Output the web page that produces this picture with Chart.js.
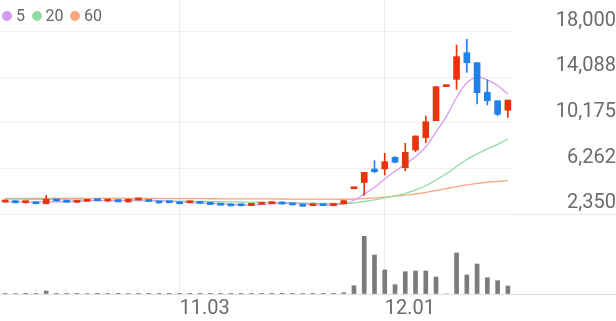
<!DOCTYPE html>
<html><head><meta charset="utf-8">
<script src="https://cdn.jsdelivr.net/npm/chart.js@4.4.0/dist/chart.umd.min.js"></script>
<style>
html,body{margin:0;padding:0;background:#fff;overflow:hidden}
#wrap{position:relative;width:616px;height:321px}
#legend{position:absolute;left:2px;top:7px;display:flex;align-items:center;font-family:Roboto,"Noto Sans",sans-serif;font-size:16px;line-height:17px;color:#666}
#legend .item{display:flex;align-items:center;margin-right:6.5px}
#legend .dot{width:10px;height:10px;border-radius:50%;margin-right:4px}
</style>
</head><body><div id="wrap"><canvas id="c" width="616" height="321"></canvas><div id="legend"></div></div>
<script>
const dates = ['10.11','10.12','10.13','10.16','10.17','10.18','10.19','10.20','10.23','10.24','10.25','10.26','10.27','10.30','10.31','11.01','11.02','11.03','11.06','11.07','11.08','11.09','11.10','11.13','11.14','11.15','11.16','11.17','11.20','11.21','11.22','11.23','11.24','11.27','11.28','11.29','11.30','12.01','12.04','12.05','12.06','12.07','12.08','12.11','12.12','12.13','12.14','12.15','12.18','12.19'];
const xTickLabels = ['11.03','12.01'];
const opens  = [3380,3495,3330,3380,3230,3550,3500,3350,3440,3610,3470,3590,3390,3560,3550,3440,3400,3400,3320,3380,3360,3260,3200,3140,3070,3190,3240,3380,3260,3200,3070,3170,3070,3230,4520,5060,6220,6220,7220,6330,7850,8910,10370,13300,13930,16220,15360,12810,12090,11270];
const closes = [3540,3320,3370,3230,3620,3480,3360,3460,3600,3500,3600,3390,3620,3650,3430,3300,3320,3230,3400,3270,3160,3110,3050,3060,3270,3360,3390,3210,3130,3020,3210,3070,3260,3500,4530,5930,5990,6850,6800,7650,9060,10290,13300,13310,15880,15360,12780,12090,10920,12150];
const highs  = [3560,3500,3380,3390,3950,3560,3510,3470,3610,3620,3610,3600,3640,3670,3560,3450,3410,3410,3410,3390,3370,3270,3210,3150,3280,3370,3400,3390,3270,3210,3220,3180,3280,3520,4530,5930,6930,7570,7280,8430,9060,10780,13300,13310,16880,17370,15360,13870,12090,12150];
const lows   = [3370,3300,3270,3220,3220,3470,3350,3340,3430,3490,3400,3380,3380,3550,3420,3290,3310,3220,3310,3260,3150,3100,3040,3040,3060,3180,3230,3200,3120,3010,3060,3060,3050,3220,4520,3960,5900,5700,6740,6070,7710,8480,10370,13300,13070,14530,11810,11720,10800,10660];
const volumes = [4000,5000,3000,4000,30000,3000,4000,3000,5000,3000,4000,3000,5000,4000,3000,3000,2000,3000,2000,3000,3000,4000,3000,3000,4000,3000,3000,3000,3000,4000,3000,3000,3000,13000,83000,577000,390000,240000,93000,223000,230000,230000,170000,0,410000,190000,300000,163000,133000,80000];
const ma5  = [3400,3390,3380,3360,3416,3404,3412,3430,3504,3480,3504,3510,3542,3552,3538,3478,3464,3386,3336,3304,3276,3234,3198,3130,3130,3170,3226,3258,3272,3222,3192,3128,3138,3212,3514,4058,4642,5360,6020,6644,7270,8130,9420,10722,12368,13628,14126,13884,13406,12660];
const ma20 = [3640,3630,3620,3610,3600,3590,3575,3560,3545,3530,3520,3510,3500,3490,3480,3470,3460,3450,3440,3434,3416,3405,3389,3380,3363,3357,3358,3346,3322,3298,3279,3263,3245,3237,3292,3424,3557,3738,3908,4127,4422,4781,5294,5806,6437,7037,7506,7950,8340,8796];
const ma60 = [3700,3700,3698,3697,3700,3699,3697,3696,3697,3695,3694,3690,3690,3688,3685,3680,3676,3672,3670,3666,3662,3658,3652,3648,3646,3644,3642,3640,3636,3632,3630,3626,3622,3620,3640,3680,3730,3800,3880,3970,4080,4210,4370,4530,4700,4850,4980,5080,5150,5212];
const priceTicks = [2350,6262,10175,14088,18000];
const priceTickLabels = ['2,350','6,262','10,175','14,088','18,000'];
const maLabels = ['5','20','60'];
const maColors = ['#d69cf0','#92dca4','#f7a67e'];

const UP = '#e8340c', DOWN = '#1f82e8';
const candleColors = opens.map((o,i) => closes[i] >= o ? UP : DOWN);
const AXIS_W = 103;
const LINE_COLOR = '#dddddd';

// legend (real text)
const legendEl = document.getElementById('legend');
maLabels.forEach((t,i) => {
  const it = document.createElement('div'); it.className = 'item';
  const d = document.createElement('span'); d.className = 'dot'; d.style.background = maColors[i];
  const s = document.createElement('span'); s.textContent = t;
  it.appendChild(d); it.appendChild(s); legendEl.appendChild(it);
});

Chart.defaults.font.family = 'Roboto, "Noto Sans", sans-serif';
Chart.defaults.color = '#6b6b6b';

new Chart(document.getElementById('c'), {
  type: 'bar',
  data: {
    labels: dates,
    datasets: [
      { type:'line', label: maLabels[0], data: ma5, yAxisID:'y', borderColor:maColors[0], backgroundColor:maColors[0], borderWidth:1.3, pointRadius:0, tension:0.35, order:5 },
      { type:'line', label: maLabels[1], data: ma20, yAxisID:'y', borderColor:maColors[1], backgroundColor:maColors[1], borderWidth:1.3, pointRadius:0, tension:0.35, order:6 },
      { type:'line', label: maLabels[2], data: ma60, yAxisID:'y', borderColor:maColors[2], backgroundColor:maColors[2], borderWidth:1.3, pointRadius:0, tension:0.35, order:7 },
      { label:'wick', data: lows.map((l,i)=>[l,highs[i]]), yAxisID:'y', backgroundColor: candleColors, barThickness:1, grouped:false, order:2 },
      { label:'body', data: opens.map((o,i)=>[o,closes[i]]), yAxisID:'y', backgroundColor: candleColors, barThickness:6, minBarLength:2, grouped:false, order:1 },
      { label:'volume', data: volumes, yAxisID:'yv', backgroundColor:'#7b7b7b', barThickness:4, grouped:false, order:3 }
    ]
  },
  options: {
    responsive:false, animation:false, devicePixelRatio:1, events:[],
    layout:{ padding:0 },
    plugins:{ tooltip:{enabled:false}, legend:{ display:false } },
    scales:{
      x:{
        position:'bottom', offset:true,
        grid:{ offset:false, drawTicks:false, lineWidth:1,
          color: ctx => (ctx.index!==undefined && xTickLabels.includes(dates[ctx.index])) ? '#ececec' : 'rgba(0,0,0,0)' },
        border:{ display:true, color:LINE_COLOR },
        ticks:{ autoSkip:false, maxRotation:0, minRotation:0, align:'start', padding:3, color:'#6b6b6b', font:{size:20},
          callback:(v,i) => xTickLabels.includes(dates[i]) ? dates[i] : '' },
        afterFit: s => { s.height = 27; }
      },
      y:{
        position:'right', stack:'main', stackWeight:214, min:2350, max:20750,
        afterBuildTicks: s => { s.ticks = priceTicks.map(v => ({value:v})); },
        grid:{ color:'#efefef', lineWidth:1, drawTicks:true, tickLength:AXIS_W,
          tickColor: ctx => (ctx.tick && ctx.tick.value===priceTicks[0]) ? '#e8e8e8' : 'rgba(0,0,0,0)' },
        border:{ display:false },
        ticks:{ crossAlign:'far', padding:-68, labelOffset:-11, color:'#6b6b6b', font:{size:20},
          callback: v => { const k = priceTicks.indexOf(v); return k>=0 ? priceTickLabels[k] : ''; } },
        afterFit: s => { s.width = AXIS_W; }
      },
      yv:{
        position:'right', stack:'main', stackWeight:80, min:0, max:800000,
        afterBuildTicks: s => { s.ticks = [{value:0}]; },
        grid:{ display:true, drawOnChartArea:false, drawTicks:true, tickLength:AXIS_W, tickColor:LINE_COLOR, lineWidth:1 },
        border:{ display:false },
        ticks:{ display:false },
        afterFit: s => { s.width = AXIS_W; }
      }
    }
  }
});
</script></body></html>
